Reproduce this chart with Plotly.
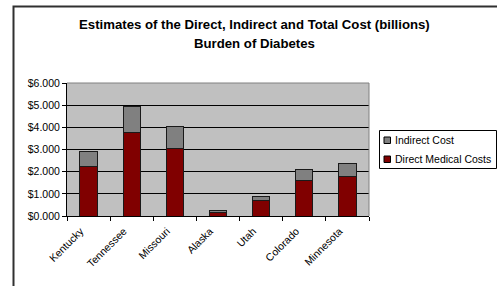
import plotly.graph_objects as go

states = ["Kentucky", "Tennessee", "Missouri", "Alaska", "Utah", "Colorado", "Minnesota"]
direct_costs = [2.24, 3.77, 3.05, 0.14, 0.69, 1.58, 1.79]
indirect_costs = [0.69, 1.17, 0.97, 0.10, 0.21, 0.51, 0.58]
direct_name = "Direct Medical Costs"
indirect_name = "Indirect Cost"
direct_color = "#800000"
indirect_color = "#808080"
title_lines = ["Estimates of the Direct, Indirect and Total Cost (billions)", "Burden of Diabetes"]

W, H = 497, 286
L, R, T, B = 67, 369, 83, 216


def px(x):
    return (x - L) / (R - L)


def py(y):
    return (B - y) / (B - T)


FONT = "Liberation Sans, Arial, sans-serif"

fig = go.Figure()
fig.add_bar(x=states, y=direct_costs, name=direct_name, marker=dict(color=direct_color, line=dict(color="#1a1a1a", width=1)), showlegend=False)
fig.add_bar(x=states, y=indirect_costs, name=indirect_name, marker=dict(color=indirect_color, line=dict(color="#1a1a1a", width=1)), showlegend=False)

shapes = []
# outer chart frame (top and left visible)
shapes.append(dict(type="path", xref="paper", yref="paper",
                   path=f"M {px(13.5)},{py(300)} L {px(13.5)},{py(6.5)} L {px(505)},{py(6.5)}",
                   line=dict(color="#303030", width=2), layer="above"))
# plot area border top/right
shapes.append(dict(type="path", xref="paper", yref="paper",
                   path="M 0,1 L 1,1 L 1,0", line=dict(color="#808080", width=1), layer="above"))
# legend box
shapes.append(dict(type="rect", xref="paper", yref="paper",
                   x0=px(379.5), x1=px(496.5), y0=py(168.5), y1=py(130.5),
                   line=dict(color="#000000", width=1), fillcolor="white"))
annotations = []
legend_items = [(indirect_name, indirect_color, 140), (direct_name, direct_color, 159)]
for name, color, cy in legend_items:
    shapes.append(dict(type="rect", xref="paper", yref="paper",
                       x0=px(384), x1=px(390.5), y0=py(cy + 3.5), y1=py(cy - 3),
                       line=dict(color="#000000", width=1), fillcolor=color))
    annotations.append(dict(text=name, xref="paper", yref="paper", x=px(393), y=py(cy),
                            xanchor="left", yanchor="middle", showarrow=False,
                            font=dict(family=FONT, size=10.5, color="#000000")))

for line, yc in zip(title_lines, [25, 43]):
    annotations.append(dict(text=f"<b>{line}</b>", xref="paper", yref="paper", x=px(254.5), y=py(yc),
                            xanchor="center", yanchor="middle", showarrow=False,
                            font=dict(family=FONT, size=13.2, color="#000000")))

fig.update_layout(
    width=W, height=H,
    margin=dict(l=L, r=W - R, t=T, b=H - B, pad=0),
    paper_bgcolor="white", plot_bgcolor="#C0C0C0",
    barmode="stack", bargap=0.6,
    font=dict(family=FONT, size=10.5, color="#000000"),
    shapes=shapes, annotations=annotations,
    xaxis=dict(showline=True, linecolor="#000000", linewidth=1, ticks="outside", ticklen=4,
               tickcolor="#000000", tickson="boundaries", tickangle=-45, showgrid=False,
               tickfont=dict(size=10.5), ticklabelshift=-8, ticklabelstandoff=4),
    yaxis=dict(range=[0, 6], dtick=1, tickprefix="$", tickformat=".3f", showline=True,
               linecolor="#000000", linewidth=1, ticks="outside", ticklen=4, tickcolor="#000000",
               showgrid=True, gridcolor="#000000", gridwidth=1, zeroline=False,
               tickfont=dict(size=10.5)),
)

fig.write_html("out.html", config={"displayModeBar": False},
               post_script="document.body.style.margin='0';document.body.style.padding='0';window.scrollTo(0,0);")
